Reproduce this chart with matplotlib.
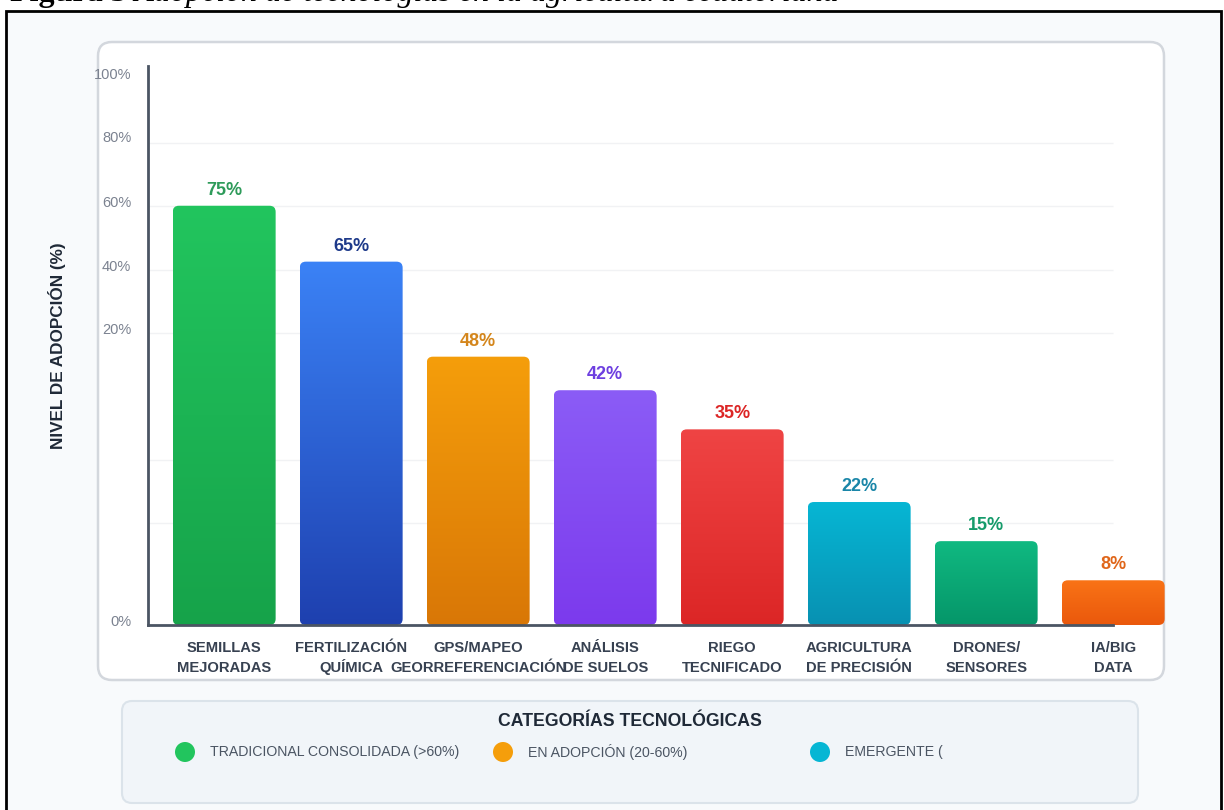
import numpy as np
import matplotlib
matplotlib.use("Agg")
import matplotlib.pyplot as plt
from matplotlib.patches import FancyBboxPatch, Rectangle, Circle
from matplotlib.colors import LinearSegmentedColormap

plt.rcParams['font.family'] = ['Liberation Sans', 'DejaVu Sans']

# adoption level per technology
tecnologias = ["SEMILLAS\nMEJORADAS", "FERTILIZACIÓN\nQUÍMICA", "GPS/MAPEO\nGEORREFERENCIACIÓN",
               "ANÁLISIS\nDE SUELOS", "RIEGO\nTECNIFICADO", "AGRICULTURA\nDE PRECISIÓN",
               "DRONES/\nSENSORES", "IA/BIG\nDATA"]
adopcion = [75, 65, 48, 42, 35, 22, 15, 8]

# bar gradient (top, bottom) and value label colour
color_top = ["#22c55e", "#3b82f6", "#f59e0b", "#8b5cf6", "#ef4444", "#06b6d4", "#10b981", "#f97316"]
color_bot = ["#16a34a", "#1e40af", "#d97706", "#7c3aed", "#dc2626", "#0891b2", "#059669", "#ea580c"]
color_txt = ["#2e9b5a", "#1e3a8a", "#d4861c", "#6d3fe0", "#dc2626", "#1a86a8", "#169b6b", "#e0661a"]

# y axis labels and background grid (left as the page renders them)
ytick_labels = ["100%", "80%", "60%", "40%", "20%", "0%"]
ytick_pos = [98.7, 87.3, 75.8, 64.4, 53.0, 0.8]
grid_pos = [86.2, 75.0, 63.5, 52.2, 29.5, 18.2]

leyenda = ["TRADICIONAL CONSOLIDADA (>60%)", "EN ADOPCIÓN (20-60%)", "EMERGENTE ("]
leyenda_col = ["#22c55e", "#f59e0b", "#06b6d4"]

W, H = 1224, 810
fig = plt.figure(figsize=(W / 100, H / 100), dpi=100)
fig.patch.set_facecolor("white")

# page layer in pixel units
bg = fig.add_axes([0, 0, 1, 1])
bg.set_xlim(0, W)
bg.set_ylim(H, 0)
bg.axis("off")

bg.add_patch(Rectangle((6, 11), 1215, 820, facecolor="#f8fafc", edgecolor="black", lw=2))
bg.add_patch(FancyBboxPatch((98, 42), 1066, 638, boxstyle="round,pad=0,rounding_size=14",
                            facecolor="white", edgecolor="#d3d7dd", lw=1.8))
bg.add_patch(FancyBboxPatch((122, 701), 1016, 102, boxstyle="round,pad=0,rounding_size=10",
                            facecolor="#f1f5f9", edgecolor="#dbe3ea", lw=1.5))

# caption above the frame (runs off the top of the page)
cap = bg.text(10, 8, "Figura 3", fontsize=23, fontweight="bold", family="Liberation Serif",
              va="bottom", ha="left", color="black", zorder=0)
bg.annotate(" Adopción de tecnologías en la agricultura ecuatoriana", xy=(1, 0), xycoords=cap,
            fontsize=23, style="italic", family="Liberation Serif", va="bottom", ha="left",
            zorder=0)

bg.text(57, 346, "NIVEL DE ADOPCIÓN (%)", rotation=90, fontsize=12.3, fontweight="bold",
        color="#1f2937", ha="center", va="center")

# legend box
bg.text(630, 721, "CATEGORÍAS TECNOLÓGICAS", fontsize=12.7, fontweight="bold",
        color="#1f2937", ha="center", va="center")
for cx, lab, col in zip([185, 503, 820], leyenda, leyenda_col):
    bg.add_patch(Circle((cx, 752), 10, facecolor=col, edgecolor="none"))
    bg.text(cx + 25, 752, lab, fontsize=10.2, color="#4b5563", ha="left", va="center")

# chart
pitch = 127.0
ppu_y = 559 / 100.0
left_px, base_px = 148, 625
xmin, xmax = -0.6, 7.45
ax = fig.add_axes([left_px / W, (H - base_px) / H, (xmax - xmin) * pitch / W, 559 / H])
ax.patch.set_visible(False)

x = np.arange(len(adopcion))
bars = ax.bar(x, adopcion, width=0.81, color=color_bot, zorder=2)

aspect = pitch / ppu_y
grad = np.linspace(0, 1, 256).reshape(-1, 1)
for b, ct, cb in zip(bars, color_top, color_bot):
    x0, w, h = b.get_x(), b.get_width(), b.get_height()
    b.set_visible(False)
    shape = FancyBboxPatch((x0, 0), w, h, boxstyle="round,pad=0,rounding_size=0.048",
                           mutation_aspect=aspect, facecolor="none", edgecolor="none")
    ax.add_patch(shape)
    cmap = LinearSegmentedColormap.from_list("g", [ct, cb])
    im = ax.imshow(grad, extent=(x0, x0 + w, 0, h), origin="upper", cmap=cmap,
                   aspect="auto", zorder=2, interpolation="bilinear")
    im.set_clip_path(shape)

for xi, v, c in zip(x, adopcion, color_txt):
    ax.annotate(f"{v}%", xy=(xi, v), xytext=(0, 5), textcoords="offset points",
                ha="center", va="bottom", fontsize=13, fontweight="bold", color=c)

# category names, two lines each on fixed baselines
for xi, lab in zip(x, tecnologias):
    for line, dy in zip(lab.split("\n"), [-27, -47]):
        ax.annotate(line, xy=(xi, 0), xycoords=("data", "axes fraction"), xytext=(0, dy),
                    textcoords="offset pixels", ha="center", va="baseline",
                    fontsize=10.6, fontweight="bold", color="#374151")

ax.hlines(grid_pos, xmin, 7.0, color="#f1f2f4", lw=1, zorder=0)

ax.set_xlim(xmin, xmax)
ax.set_ylim(0, 100)
ax.set_xticks(x, [])
ax.set_yticks(ytick_pos, ytick_labels, fontsize=10.5, color="#7b8290")
ax.tick_params(axis="both", length=0)
ax.tick_params(axis="y", pad=12)

for s in ["top", "right"]:
    ax.spines[s].set_visible(False)
for s in ["left", "bottom"]:
    ax.spines[s].set_color("#4b5563")
    ax.spines[s].set_linewidth(2)
ax.spines["bottom"].set_bounds(xmin, 7.0)

fig.savefig("out.png", dpi=100)
